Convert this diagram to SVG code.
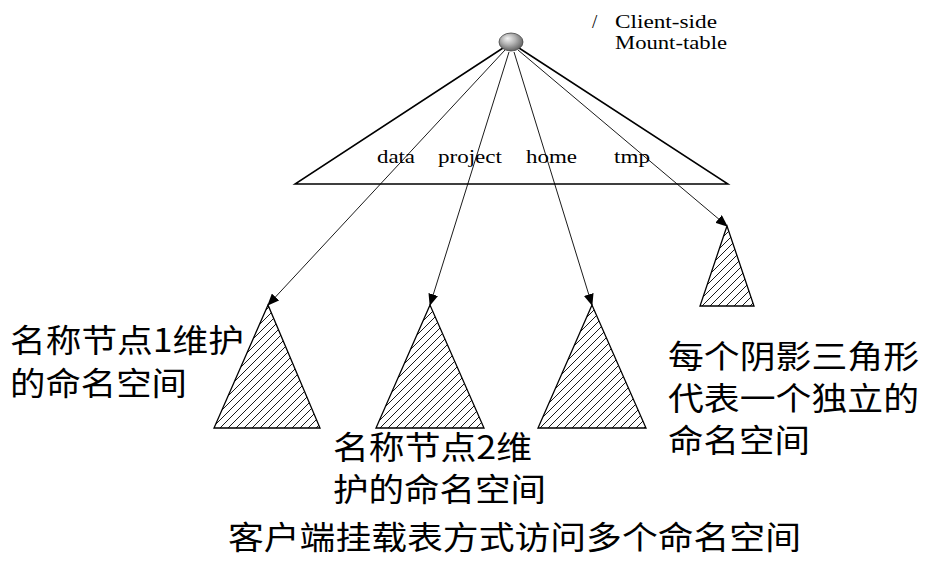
<svg xmlns="http://www.w3.org/2000/svg" width="942" height="584" viewBox="0 0 942 584">
<defs>
  <radialGradient id="ball" cx="0.45" cy="0.4" r="0.65" fx="0.35" fy="0.3">
    <stop offset="0" stop-color="#f4f4f4"/>
    <stop offset="0.45" stop-color="#b4b4b4"/>
    <stop offset="1" stop-color="#555555"/>
  </radialGradient>
  <pattern id="hatch" patternUnits="userSpaceOnUse" width="8" height="8">
    <path d="M-2,2 L2,-2 M0,8 L8,0 M6,10 L10,6" stroke="#000" stroke-width="0.9"/>
  </pattern>
  <marker id="arr" markerWidth="12" markerHeight="10" refX="11" refY="5" orient="auto" markerUnits="userSpaceOnUse">
    <path d="M0,0 L12,5 L0,10 Z" fill="#000"/>
  </marker>
</defs>
<style>
  .en { font-family: "Liberation Serif", "Times New Roman", serif; font-size: 19px; fill: #000; }
  .zh { font-family: "Noto Sans CJK SC", "Noto Sans", sans-serif; font-size: 32px; fill: #000; }
  .tri { fill: url(#hatch); stroke: #000; stroke-width: 1.3; }
  .conn { stroke: #000; stroke-width: 0.9; fill: none; }
</style>

<g id="mount-table">
  <path d="M503,48 L295,184 L728,184 L519,48" fill="none" stroke="#000" stroke-width="1.5"/>
  <text class="en" x="377" y="163" textLength="38" lengthAdjust="spacingAndGlyphs">data</text>
  <text class="en" x="438" y="163" textLength="64" lengthAdjust="spacingAndGlyphs">project</text>
  <text class="en" x="526" y="163" textLength="51" lengthAdjust="spacingAndGlyphs">home</text>
  <text class="en" x="614" y="163" textLength="36" lengthAdjust="spacingAndGlyphs">tmp</text>
</g>

<g id="root">
  <ellipse cx="511" cy="42" rx="12" ry="9" fill="url(#ball)" stroke="#444" stroke-width="0.8"/>
  <text class="en" x="592" y="28">/</text>
  <text class="en" x="615" y="28" textLength="102" lengthAdjust="spacingAndGlyphs">Client-side</text>
  <text class="en" x="615" y="49" textLength="112" lengthAdjust="spacingAndGlyphs">Mount-table</text>
</g>

<g id="connectors">
  <line class="conn" x1="505" y1="50" x2="268" y2="305" marker-end="url(#arr)"/>
  <line class="conn" x1="509" y1="52" x2="430" y2="305" marker-end="url(#arr)"/>
  <line class="conn" x1="514" y1="52" x2="592" y2="305" marker-end="url(#arr)"/>
  <line class="conn" x1="518" y1="50" x2="727" y2="226" marker-end="url(#arr)"/>
</g>

<g id="ns1">
  <polygon class="tri" points="268,305 214,428 320,428"/>
</g>
<g id="ns2">
  <polygon class="tri" points="430,305 376,428 484,428"/>
</g>
<g id="ns3">
  <polygon class="tri" points="592,305 538,428 646,428"/>
</g>
<g id="ns4">
  <polygon class="tri" points="727,226 700,306 754,306"/>
</g>

<g id="label-ns1">
  <text class="zh" x="10" y="352" textLength="234" lengthAdjust="spacingAndGlyphs">名称节点1维护</text>
  <text class="zh" x="10" y="395" textLength="177" lengthAdjust="spacingAndGlyphs">的命名空间</text>
</g>
<g id="label-ns2">
  <text class="zh" x="333" y="459" textLength="199" lengthAdjust="spacingAndGlyphs">名称节点2维</text>
  <text class="zh" x="333" y="501" textLength="213" lengthAdjust="spacingAndGlyphs">护的命名空间</text>
</g>
<g id="label-note">
  <text class="zh" x="668" y="368" textLength="251" lengthAdjust="spacingAndGlyphs">每个阴影三角形</text>
  <text class="zh" x="668" y="410" textLength="251" lengthAdjust="spacingAndGlyphs">代表一个独立的</text>
  <text class="zh" x="668" y="452" textLength="142" lengthAdjust="spacingAndGlyphs">命名空间</text>
</g>
<g id="caption">
  <text class="zh" x="228" y="549" textLength="573" lengthAdjust="spacingAndGlyphs">客户端挂载表方式访问多个命名空间</text>
</g>
</svg>
